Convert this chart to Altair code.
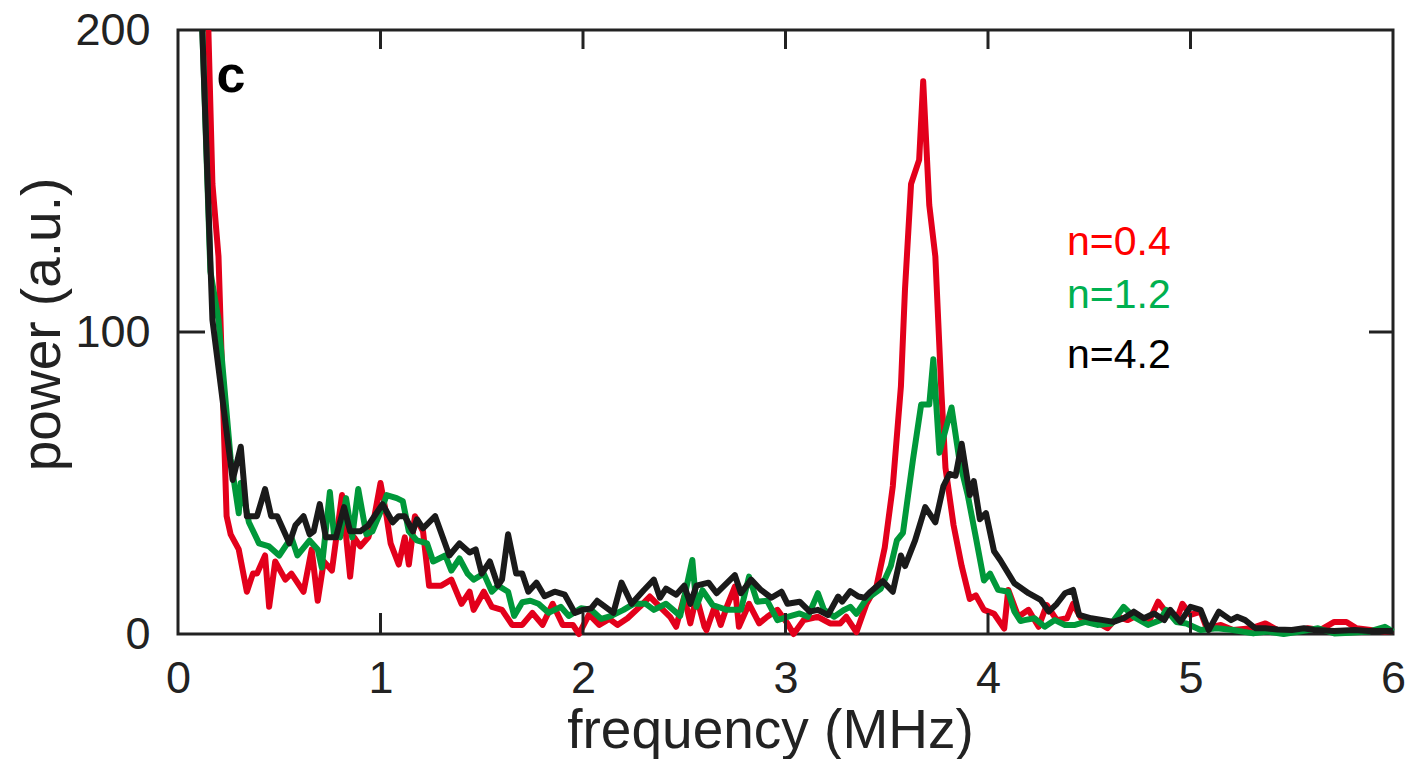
import altair as alt
import pandas as pd

# ---- data ----
red_x = [0.15, 0.17, 0.20, 0.24, 0.26, 0.30, 0.34, 0.37, 0.39, 0.43, 0.45, 0.48, 0.53, 0.56, 0.58, 0.62, 0.66, 0.69, 0.72, 0.76,
         0.81, 0.85, 0.87, 0.90, 0.94, 0.97, 1.00, 1.03, 1.05, 1.09, 1.12, 1.14, 1.17, 1.21, 1.24, 1.30, 1.35, 1.40, 1.44, 1.46,
         1.51, 1.55, 1.60, 1.65, 1.70, 1.75, 1.80, 1.85, 1.90, 1.95, 1.98, 2.03, 2.08, 2.13, 2.17, 2.22, 2.28, 2.33, 2.38, 2.43,
         2.46, 2.50, 2.53, 2.56, 2.60, 2.61, 2.65, 2.68, 2.71, 2.75, 2.77, 2.82, 2.87, 2.91, 2.96, 3.01, 3.04, 3.09, 3.16, 3.22,
         3.27, 3.30, 3.35, 3.40, 3.45, 3.49, 3.53, 3.57, 3.59, 3.62, 3.66, 3.68, 3.71, 3.74, 3.77, 3.79, 3.83, 3.87, 3.91, 3.94,
         3.98, 4.03, 4.08, 4.10, 4.15, 4.20, 4.25, 4.29, 4.34, 4.39, 4.42, 4.46, 4.52, 4.59, 4.64, 4.69, 4.74, 4.79, 4.84, 4.89,
         4.94, 4.96, 5.00, 5.05, 5.08, 5.15, 5.21, 5.30, 5.37, 5.43, 5.51, 5.58, 5.64, 5.71, 5.77, 5.82, 5.89, 5.96, 6.00]
red_y = [200, 149, 125, 39, 33, 28, 14, 20, 20, 26, 9, 24, 18, 20, 18, 14, 28, 11, 24, 21,
         46, 19, 32, 29, 32, 39, 50, 39, 30, 23, 32, 23, 39, 34, 16, 16, 18, 10, 14, 8,
         14, 9, 8, 3, 3, 7, 3, 10, 3, 3, 0, 6.5, 3, 5, 3, 5.2, 9, 12.4, 9, 5.7,
         2.4, 12.4, 3.5, 12.4, 2.4, 1.3, 9, 3, 9, 15.7, 2.4, 10, 3.5, 5.7, 8, 3.5, 0, 4.6, 5.7, 3.5,
         3.5, 5.7, 0.6, 10, 16, 28.6, 49, 82, 114, 149, 157, 183, 142, 125, 80, 55, 36, 22.5, 11.6, 12.8,
         8, 6.7, 1.8, 14.6, 5.7, 8, 2.4, 9.6, 4.6, 5.2, 10, 5.2, 4.6, 1.9, 5.7, 4.6, 6.3, 3.5, 10.7, 6.3,
         6.3, 10, 6.3, 7.4, 1.9, 3, 1.3, 1.9, 3.5, 1.3, 0.8, 1.9, 1.3, 4, 4, 1.9, 1.3, 0.8, 1]

green_x = [0.12, 0.16, 0.20, 0.26, 0.30, 0.31, 0.35, 0.40, 0.45, 0.50, 0.56, 0.59, 0.65, 0.69, 0.71, 0.75, 0.77, 0.80, 0.83, 0.86,
           0.89, 0.93, 0.96, 1.01, 1.03, 1.08, 1.11, 1.14, 1.18, 1.23, 1.26, 1.32, 1.35, 1.39, 1.43, 1.46, 1.51, 1.55, 1.58, 1.63,
           1.66, 1.70, 1.74, 1.78, 1.83, 1.89, 1.93, 1.99, 2.04, 2.09, 2.14, 2.20, 2.25, 2.31, 2.35, 2.41, 2.48, 2.54, 2.56, 2.59,
           2.64, 2.71, 2.78, 2.82, 2.86, 2.91, 2.96, 3.01, 3.07, 3.11, 3.16, 3.19, 3.24, 3.29, 3.32, 3.35, 3.40, 3.47, 3.52, 3.55,
           3.58, 3.63, 3.67, 3.71, 3.73, 3.76, 3.82, 3.86, 3.90, 3.94, 3.98, 4.01, 4.05, 4.10, 4.13, 4.16, 4.18, 4.23, 4.28, 4.33,
           4.38, 4.43, 4.48, 4.54, 4.61, 4.67, 4.72, 4.79, 4.85, 4.88, 4.93, 4.98, 5.05, 5.13, 5.21, 5.31, 5.38, 5.46, 5.54, 5.63,
           5.71, 5.79, 5.88, 5.96, 6.00]
green_y = [200, 120, 104, 58, 40, 50, 37, 30, 29, 26, 32, 26, 31, 28, 22, 47, 33, 32, 45, 32,
           48, 33, 34, 42, 46, 45, 44, 34, 31, 30, 24, 26, 21, 25, 20, 18, 20, 14, 16, 14,
           6, 10.5, 11, 10, 7, 9, 6, 8.5, 8, 5, 6, 8, 10, 10, 8, 10, 6, 24.5, 9, 14.5,
           9.6, 8, 8, 19, 10.7, 11, 4.6, 5.7, 6.8, 5.7, 13.5, 8, 5.7, 8, 9, 6.7, 11.6, 15, 22.5, 31,
           33.5, 58, 76, 76, 91, 60, 75, 57, 46, 32, 17.7, 20, 14.6, 14, 7.5, 4.3, 4.6, 5.2, 2.4, 4.6,
           3, 3, 4, 3, 3.5, 9, 5.7, 3, 4.6, 8, 4, 3.5, 1.3, 1.9, 1.3, 0.2, 0.8, 0, 0.8, 1.9,
           0.2, 0.4, 0.8, 2.4, 0.8]

black_x = [0.12, 0.17, 0.27, 0.31, 0.34, 0.39, 0.43, 0.46, 0.49, 0.53, 0.55, 0.58, 0.62, 0.65, 0.67, 0.70, 0.73, 0.78, 0.82, 0.85,
           0.90, 0.94, 1.01, 1.06, 1.09, 1.12, 1.16, 1.18, 1.21, 1.27, 1.34, 1.39, 1.44, 1.47, 1.50, 1.54, 1.58, 1.60, 1.63, 1.67,
           1.70, 1.73, 1.77, 1.81, 1.86, 1.91, 1.96, 2.00, 2.04, 2.07, 2.15, 2.19, 2.24, 2.30, 2.35, 2.38, 2.41, 2.46, 2.50, 2.53,
           2.56, 2.62, 2.66, 2.75, 2.78, 2.83, 2.88, 2.93, 2.98, 3.01, 3.07, 3.12, 3.16, 3.21, 3.26, 3.28, 3.32, 3.36, 3.39, 3.42,
           3.48, 3.53, 3.57, 3.59, 3.64, 3.69, 3.74, 3.78, 3.81, 3.84, 3.87, 3.91, 3.93, 3.96, 3.99, 4.03, 4.06, 4.13, 4.20, 4.26,
           4.30, 4.34, 4.38, 4.42, 4.45, 4.51, 4.57, 4.62, 4.67, 4.72, 4.77, 4.82, 4.87, 4.90, 4.95, 5.00, 5.05, 5.09, 5.14, 5.20,
           5.23, 5.27, 5.32, 5.37, 5.43, 5.50, 5.56, 5.61, 5.71, 5.81, 5.88, 6.00]
black_y = [200, 104, 51, 62, 39, 39, 48, 39, 39, 33, 30, 36, 39, 33, 34, 43, 32, 32, 42, 34,
           34, 36, 43, 37, 39, 39, 34, 38, 35, 39, 26, 30, 27, 28, 20, 24, 16, 18, 33, 20,
           20, 14, 17, 12.5, 14, 13, 7, 8, 8.5, 11, 7, 17, 10, 14.5, 18, 12, 15, 13, 16, 10,
           16, 17, 13.5, 19.5, 13.5, 18, 14.5, 12, 14, 10, 10.7, 7.4, 8, 6.3, 12.4, 10.7, 14.2, 12.4, 12, 14,
           17.5, 14, 26, 22.5, 31, 42, 37, 49, 53, 52.4, 63, 46, 50.6, 38, 40, 27.4, 24.5, 16.8, 13.5, 11.3,
           7.4, 10, 13.5, 14.6, 6.3, 5.2, 4.6, 4, 5.2, 7.4, 5.2, 6.8, 4.6, 8, 4, 9, 8, 1.3, 7.4, 4.6,
           5.7, 4.6, 1.9, 1.9, 1.5, 1.3, 1.9, 1.3, 1, 1.3, 1, 1]

series_names = ["n=0.4", "n=1.2", "n=4.2"]
line_colors = ["#e3001b", "#00983a", "#1a1a1a"]
label_colors = ["#ff0000", "#00b050", "#000000"]
legend_x = [4.39, 4.39, 4.39]
legend_y = [125.5, 108, 88]

panel_label = ["c"]
panel_x = [0.19]
panel_y = [179.5]

x_ticks = [0, 1, 2, 3, 4, 5, 6]
y_ticks = [0, 100, 200]
x_inner_ticks = [1, 2, 3, 4, 5]
y_inner_ticks = [100]

W, H = 1215, 604
FONT = "Liberation Sans"
INK = "#222222"

xscale = alt.Scale(domain=[0, 6], nice=False, zero=False)
yscale = alt.Scale(domain=[0, 200], nice=False)

xaxis = alt.Axis(values=x_ticks, format="d", labelFontSize=45, labelFont=FONT, labelColor=INK,
                 ticks=False, tickSize=0, domain=False, grid=False, labelPadding=22, labelFlush=False,
                 title="frequency (MHz)", titleFontSize=55, titleFont=FONT, titleFontWeight="normal",
                 titleColor=INK, titleX=592, titleY=113, titleBaseline="alphabetic", titleAlign="center")
yaxis = alt.Axis(values=y_ticks, format="d", labelFontSize=45, labelFont=FONT, labelColor=INK,
                 ticks=False, tickSize=0, domain=False, grid=False, labelPadding=28, labelFlush=False,
                 title="power (a.u.)", titleFontSize=55, titleFont=FONT, titleFontWeight="normal",
                 titleColor=INK, titleX=-119, titleY=294, titleBaseline="alphabetic", titleAlign="center",
                 titleAngle=270)

X = lambda: alt.X("f:Q", scale=xscale, axis=xaxis, title="frequency (MHz)")
Y = lambda: alt.Y("p:Q", scale=yscale, axis=yaxis, title="power (a.u.)")


def line_layer(xs, ys, color):
    df = pd.DataFrame({"f": xs, "p": ys})
    return alt.Chart(df).mark_line(color=color, strokeWidth=6, strokeJoin="round").encode(x=X(), y=Y())


red = line_layer(red_x, red_y, line_colors[0])
green = line_layer(green_x, green_y, line_colors[1])
black = line_layer(black_x, black_y, line_colors[2])

xt = pd.DataFrame({"f": x_inner_ticks})
yt = pd.DataFrame({"p": y_inner_ticks})
tick_style = dict(color=INK, strokeWidth=3)
bottom_ticks = alt.Chart(xt).mark_rule(**tick_style).encode(x=X(), y=alt.value(H), y2=alt.value(H - 21))
top_ticks = alt.Chart(xt).mark_rule(**tick_style).encode(x=X(), y=alt.value(0), y2=alt.value(19))
left_ticks = alt.Chart(yt).mark_rule(**tick_style).encode(y=Y(), x=alt.value(0), x2=alt.value(27))
right_ticks = alt.Chart(yt).mark_rule(**tick_style).encode(y=Y(), x=alt.value(W), x2=alt.value(W - 24))

leg_df = pd.DataFrame({"f": legend_x, "p": legend_y, "t": series_names, "c": label_colors})
legend = alt.Chart(leg_df).mark_text(fontSize=41, font=FONT, align="left", baseline="alphabetic").encode(
    x=X(), y=Y(), text="t:N", color=alt.Color("c:N", scale=None))

lab_df = pd.DataFrame({"f": panel_x, "p": panel_y, "t": panel_label})
panel = alt.Chart(lab_df).mark_text(fontSize=52, font=FONT, fontWeight="bold", align="left",
                                    baseline="alphabetic", color="#000000").encode(x=X(), y=Y(), text="t:N")

chart = alt.layer(red, green, black, bottom_ticks, top_ticks, left_ticks, right_ticks, legend, panel).properties(
    width=W, height=H,
    autosize=alt.AutoSizeParams(type="none"),
    padding={"left": 178, "top": 30, "right": 17, "bottom": 125},
    background="white",
).configure_view(stroke=INK, strokeWidth=3)

chart.save("out.html", embed_options={"renderer": "svg", "actions": False})
